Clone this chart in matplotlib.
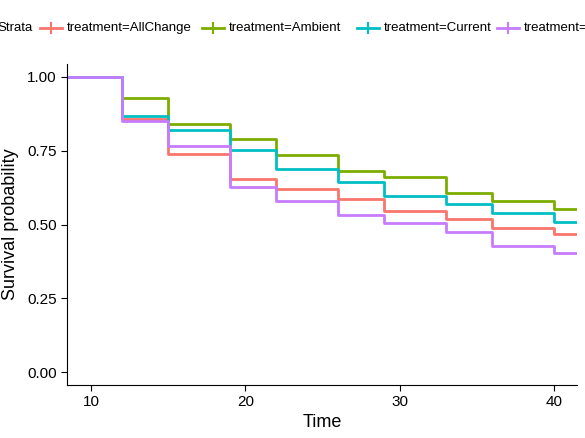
import matplotlib
matplotlib.use("Agg")
import matplotlib.pyplot as plt
from matplotlib.lines import Line2D

plt.rcParams['font.family'] = ['Liberation Sans', 'DejaVu Sans']

times = [8, 12, 15, 19, 22, 26, 29, 33, 36, 40, 42]
surv_allchange = [1.0, 0.857, 0.739, 0.654, 0.620, 0.586, 0.546, 0.519, 0.488, 0.468, 0.468]
surv_ambient = [1.0, 0.929, 0.841, 0.790, 0.736, 0.681, 0.661, 0.607, 0.580, 0.553, 0.553]
surv_current = [1.0, 0.868, 0.820, 0.753, 0.688, 0.644, 0.597, 0.569, 0.539, 0.508, 0.508]
surv_warming = [1.0, 0.851, 0.766, 0.627, 0.580, 0.532, 0.505, 0.475, 0.427, 0.403, 0.403]
labels = ["treatment=AllChange", "treatment=Ambient", "treatment=Current", "treatment=Warming"]
colors = ["#F8766D", "#7CAE00", "#00BFC4", "#C77CFF"]
series = [surv_allchange, surv_ambient, surv_current, surv_warming]

fig = plt.figure(figsize=(5.85, 4.38), dpi=100)
ax = fig.add_axes([67/585, 1-385/438, 510/585, 321/438])
for s, c in zip(series, colors):
    ax.step(times, s, where="post", color=c, lw=2)

ax.set_xlim(8.44, 41.5)
ax.set_ylim(-0.044, 1.044)
ax.set_xticks([10, 20, 30, 40])
ax.set_yticks([0, 0.25, 0.5, 0.75, 1.0])
ax.set_yticklabels(["0.00", "0.25", "0.50", "0.75", "1.00"])
ax.tick_params(labelsize=11, colors="black", length=4)
ax.set_xlabel("Time", fontsize=13, labelpad=3)
ax.set_ylabel("Survival probability", fontsize=13, labelpad=6)
for sp in ["top", "right"]:
    ax.spines[sp].set_visible(False)

# legend row across the top (clipped by the figure edges like the original)
W, H = 585, 438
ly = 1 - 28/H
fig.text(33/W, ly, "Strata", fontsize=9.5, ha="right", va="center")
key_x = [40, 202, 357, 497]
for x0, lab, c in zip(key_x, labels, colors):
    fig.add_artist(Line2D([x0/W, (x0+22)/W], [ly, ly], color=c, lw=2))
    fig.add_artist(Line2D([(x0+11)/W, (x0+11)/W], [ly-5/H, ly+5/H], color=c, lw=1.5))
    fig.text((x0+27)/W, ly, lab, fontsize=9.5, ha="left", va="center")

fig.savefig("out.png", dpi=100)
